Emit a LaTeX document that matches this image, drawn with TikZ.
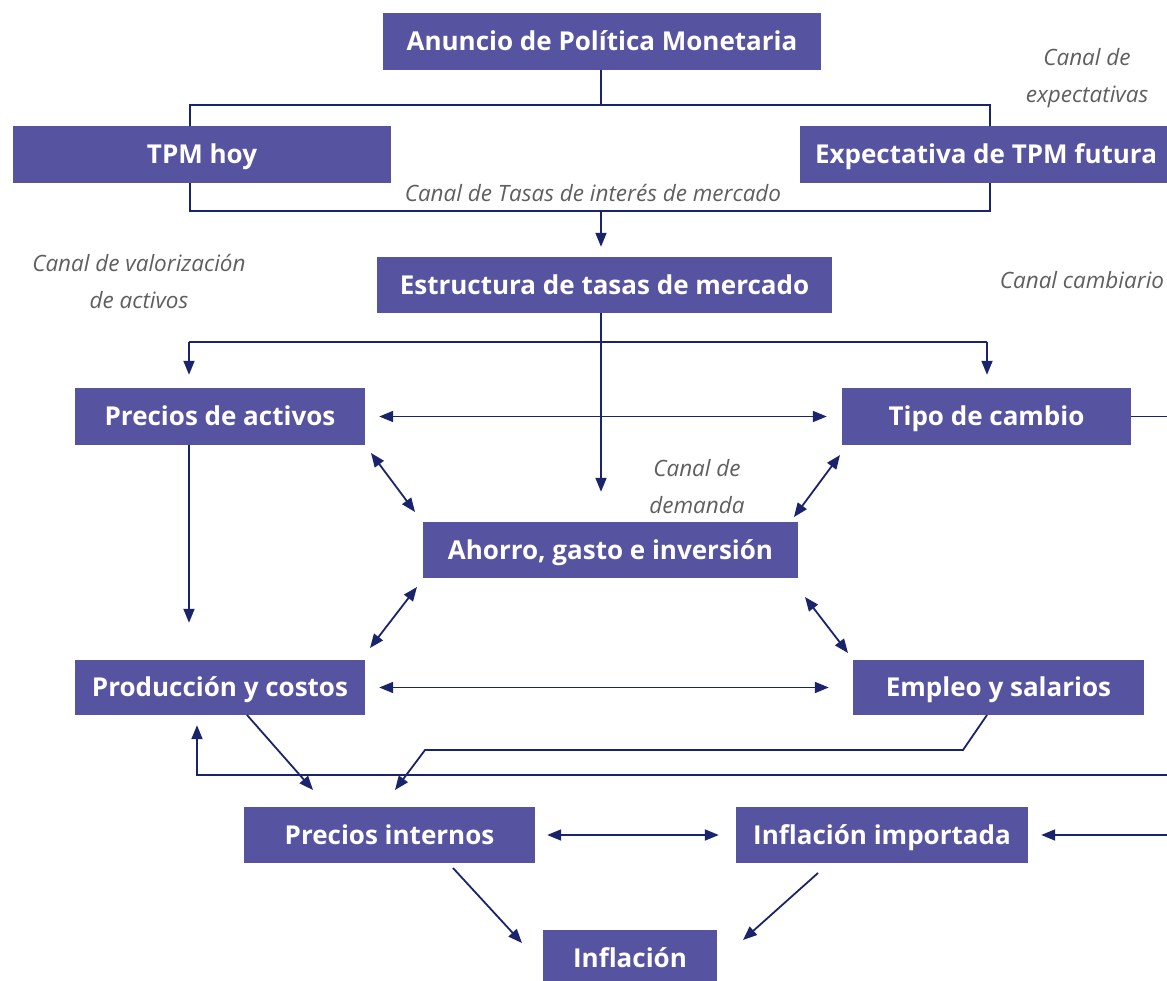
\documentclass[tikz,border=0pt]{standalone}
\usepackage{fontspec}
\setmainfont{Open Sans}
\usetikzlibrary{arrows.meta,calc}
\definecolor{boxc}{RGB}{86,83,160}
\definecolor{linec}{RGB}{26,36,108}
\definecolor{labc}{RGB}{95,95,95}
\begin{document}
\begin{tikzpicture}[x=1pt,y=-1pt,
  box/.style={fill=boxc, text=white, font=\bfseries\fontsize{26}{30}\selectfont, inner sep=0pt, anchor=center, text height=18.5pt, text depth=0pt},
  conn/.style={draw=linec, line width=1.8pt},
  arr/.style={conn, -{Triangle[length=14pt,width=11pt]}},
  darr/.style={conn, {Triangle[length=14pt,width=11pt]}-{Triangle[length=14pt,width=11pt]}},
  lab/.style={text=labc, font=\itshape\fontsize{22.5}{37}\selectfont, align=center, inner sep=0pt}]
\useasboundingbox (0,0) rectangle (1167,981);
\fill[white] (0,0) rectangle (1167,981);
% boxes
\node[box, minimum width=438pt, minimum height=57pt] (anuncio) at (602,41.5) {Anuncio de Política Monetaria};
\node[box, minimum width=378pt, minimum height=57pt] (tpm) at (202,154.5) {TPM hoy};
\node[box, minimum width=372pt, minimum height=57pt] (expect) at (986,154.5) {Expectativa de TPM futura};
\node[box, minimum width=455pt, minimum height=56pt] (estr) at (604.5,285) {Estructura de tasas de mercado};
\node[box, minimum width=290pt, minimum height=57pt] (pact) at (220,416.5) {Precios de activos};
\node[box, minimum width=289pt, minimum height=57pt] (tcam) at (986.5,416.5) {Tipo de cambio};
\node[box, minimum width=375pt, minimum height=56pt] (ahorro) at (610.5,550) {Ahorro, gasto e inversión};
\node[box, minimum width=290pt, minimum height=55pt] (prod) at (220,687.5) {Producción y costos};
\node[box, minimum width=291pt, minimum height=55pt] (empleo) at (998.5,687.5) {Empleo y salarios};
\node[box, minimum width=291pt, minimum height=56pt] (pint) at (389.5,835) {Precios internos};
\node[box, minimum width=292pt, minimum height=56pt] (infimp) at (882,835) {Inflación importada};
\node[box, minimum width=174pt, minimum height=56pt] (infl) at (630,958) {Inflación};
% labels
\node[lab] (lexp) at (1087,78) {Canal de\\expectativas};
\node[lab] (ltasas) at (593,193) {Canal de Tasas de interés de mercado};
\node[lab] (lval) at (139,281) {Canal de valorización\\de activos};
\node[lab] (lcam) at (1082,280) {Canal cambiario};
\node[lab] (ldem) at (697,487) {Canal de\\demanda};
% top bracket
\coordinate (jt) at (601,105);
\coordinate (tl) at (190,105);
\coordinate (tr) at (990,105);
\draw[conn] (jt |- anuncio.south) -- (jt);
\draw[conn] (tl |- tpm.north) -- (tl) -- (tr) -- (tr |- expect.north);
\coordinate (bl) at (190,211);
\coordinate (br) at (990,211);
\coordinate (bm) at (601,211);
\draw[conn] (bl |- tpm.south) -- (bl) -- (br) -- (br |- expect.south);
\draw[arr, shorten >=10pt] (bm) -- (bm |- estr.north);
% from estructura
\coordinate (hl) at (189,342);
\coordinate (hr) at (987,342);
\coordinate (hm) at (601,342);
\draw[arr, shorten >=30pt] (hm |- estr.south) -- (hm |- ahorro.north);
\draw[conn] (hl) -- (hr);
\draw[arr, shorten >=13pt] (hl) -- (hl |- pact.north);
\draw[arr, shorten >=13pt] (hr) -- (hr |- tcam.north);
\draw[darr, shorten <=14pt, shorten >=15pt] (pact.east) -- (tcam.west);
\draw[arr, shorten >=37pt] (hl |- pact.south) -- (hl |- prod.north);
% diagonals around ahorro
\coordinate (d1a) at (371,453); \coordinate (d1b) at (415,512);
\coordinate (d2a) at (794,517); \coordinate (d2b) at (840,455);
\coordinate (d3a) at (417,587); \coordinate (d3b) at (370,648);
\coordinate (d4a) at (805,597); \coordinate (d4b) at (848,653);
\draw[darr] (d1a) -- (d1b);
\draw[darr] (d2a) -- (d2b);
\draw[darr] (d3a) -- (d3b);
\draw[darr] (d4a) -- (d4b);
\draw[darr, shorten <=14pt, shorten >=24pt] (prod.east) -- (empleo.west);
% right side (cambiario)
\coordinate (r0) at (1190,416.5);
\coordinate (r1) at (1190,775);
\coordinate (l1) at (197,775);
\draw[conn] (tcam.east) -- (r0) -- (r0 |- infimp.east);
\draw[arr, shorten >=10pt] (r1) -- (l1) -- (l1 |- prod.south);
\draw[arr, shorten >=13pt] (r0 |- infimp.east) -- (infimp.east);
% to precios internos
\coordinate (p1) at (247,715); \coordinate (p2) at (313,790);
\draw[arr] (p1) -- (p2);
\coordinate (e1) at (987,715); \coordinate (e2) at (963,750);
\coordinate (e3) at (425,750); \coordinate (e4) at (395,790);
\draw[arr] (e1) -- (e2) -- (e3) -- (e4);
\draw[darr, shorten <=12pt, shorten >=17pt] (pint.east) -- (infimp.west);
% to inflacion
\coordinate (f1) at (453,868); \coordinate (f2) at (522,943);
\coordinate (g1) at (818,873); \coordinate (g2) at (743,940);
\draw[arr] (f1) -- (f2);
\draw[arr] (g1) -- (g2);
\end{tikzpicture}
\end{document}
